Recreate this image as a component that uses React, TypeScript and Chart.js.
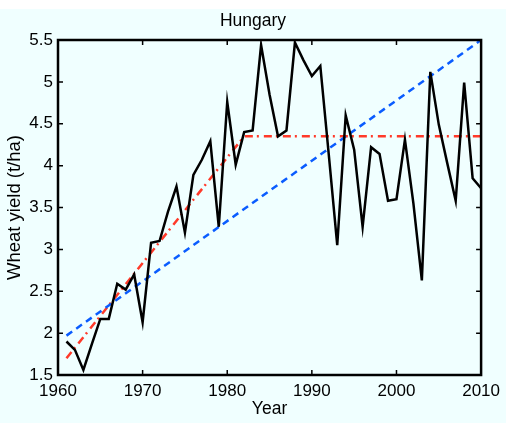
import React, { useEffect, useRef } from "react";
import { Chart, registerables } from "chart.js";
Chart.register(...registerables);

const years = [
  1961, 1962, 1963, 1964, 1965, 1966, 1967, 1968, 1969, 1970,
  1971, 1972, 1973, 1974, 1975, 1976, 1977, 1978, 1979, 1980,
  1981, 1982, 1983, 1984, 1985, 1986, 1987, 1988, 1989, 1990,
  1991, 1992, 1993, 1994, 1995, 1996, 1997, 1998, 1999, 2000,
  2001, 2002, 2003, 2004, 2005, 2006, 2007, 2008, 2009, 2010,
];
const yields = [
  1.9, 1.8, 1.56, 1.87, 2.17, 2.17, 2.59, 2.52, 2.7, 2.13,
  3.08, 3.1, 3.45, 3.75, 3.2, 3.89, 4.07, 4.29, 3.27, 4.76,
  4.01, 4.4, 4.42, 5.44, 4.85, 4.35, 4.42, 5.47, 5.26, 5.07,
  5.19, 4.13, 3.05, 4.6, 4.19, 3.27, 4.22, 4.14, 3.58, 3.6,
  4.31, 3.55, 2.63, 5.12, 4.49, 4.03, 3.58, 4.99, 3.85, 3.73,
];
const linearTrendYears = [1961, 2010];
const linearTrendValues = [1.97, 5.5];
const plateauYears = [1961, 1982, 2010];
const plateauValues = [1.7, 4.35, 4.35];
const xTicks = [1960, 1970, 1980, 1990, 2000, 2010];
const yTicks = [1.5, 2, 2.5, 3, 3.5, 4, 4.5, 5, 5.5];

const FONT = "'Liberation Sans', Arial, Helvetica, sans-serif";

const framePlugin = {
  id: "frame",
  afterDraw(chart: any) {
    const { ctx, chartArea, scales } = chart;
    const { left, right, top, bottom } = chartArea;
    ctx.save();
    ctx.strokeStyle = "#000";
    ctx.lineWidth = 1.5;
    const tl = 5;
    ctx.beginPath();
    for (const v of xTicks) {
      const px = scales.x.getPixelForValue(v);
      ctx.moveTo(px, bottom);
      ctx.lineTo(px, bottom - tl);
      ctx.moveTo(px, top);
      ctx.lineTo(px, top + tl);
    }
    for (const v of yTicks) {
      const py = scales.y.getPixelForValue(v);
      ctx.moveTo(left, py);
      ctx.lineTo(left + tl, py);
      ctx.moveTo(right, py);
      ctx.lineTo(right - tl, py);
    }
    ctx.stroke();
    ctx.lineWidth = 2.5;
    ctx.strokeRect(left, top, right - left, bottom - top);
    ctx.restore();
  },
};

export default function App() {
  const ref = useRef<HTMLCanvasElement>(null);
  useEffect(() => {
    if (!ref.current) return;
    const chart = new Chart(ref.current, {
      type: "line",
      data: {
        datasets: [
          {
            label: "Yield",
            data: years.map((x, i) => ({ x, y: yields[i] })),
            borderColor: "#000",
            borderWidth: 2.5,
            pointRadius: 0,
            tension: 0,
          },
          {
            label: "Linear trend",
            data: linearTrendYears.map((x, i) => ({ x, y: linearTrendValues[i] })),
            borderColor: "#0a5cff",
            borderWidth: 2.5,
            borderDash: [7, 5],
            pointRadius: 0,
          },
          {
            label: "Plateau",
            data: plateauYears.map((x, i) => ({ x, y: plateauValues[i] })),
            borderColor: "#ff3a2a",
            borderWidth: 2.5,
            borderDash: [8, 4, 2, 5],
            pointRadius: 0,
          },
        ],
      },
      options: {
        animation: false,
        responsive: false,
        layout: { padding: 0 },
        plugins: {
          legend: { display: false },
          tooltip: { enabled: false },
          title: {
            display: true,
            text: "Hungary",
            color: "#000",
            font: { family: FONT, size: 17.5, weight: "normal" },
            padding: { top: 1.5, bottom: 8.5 },
          },
        },
        scales: {
          x: {
            type: "linear",
            min: 1960,
            max: 2010,
            afterBuildTicks: (s: any) => {
              s.ticks = xTicks.map((v) => ({ value: v }));
            },
            afterFit: (s: any) => {
              s.height = 48;
            },
            grid: { display: false, drawTicks: false },
            border: { display: false },
            ticks: {
              color: "#000",
              font: { family: FONT, size: 17 },
              padding: 6,
              maxRotation: 0,
              callback: (v: any) => String(v),
            },
            title: {
              display: true,
              text: "Year",
              color: "#000",
              font: { family: FONT, size: 17.5 },
              padding: { top: 0, bottom: 3 },
            },
          },
          y: {
            type: "linear",
            min: 1.5,
            max: 5.5,
            afterBuildTicks: (s: any) => {
              s.ticks = yTicks.map((v) => ({ value: v }));
            },
            afterFit: (s: any) => {
              s.width = 58;
            },
            grid: { display: false, drawTicks: false },
            border: { display: false },
            ticks: {
              color: "#000",
              font: { family: FONT, size: 17 },
              padding: 5,
              callback: (v: any) => String(v),
            },
            title: {
              display: true,
              text: "Wheat yield (t/ha)",
              color: "#000",
              font: { family: FONT, size: 18.5 },
              padding: { top: 4, bottom: 0 },
            },
          },
        },
      },
      plugins: [framePlugin],
    });
    return () => chart.destroy();
  }, []);
  return (
    <div
      style={{
        position: "absolute",
        left: 0,
        top: 9,
        width: 506,
        height: 414,
        background: "#f0ffff",
      }}
    >
      <canvas ref={ref} width={506} height={414} style={{ display: "block" }} />
    </div>
  );
}
